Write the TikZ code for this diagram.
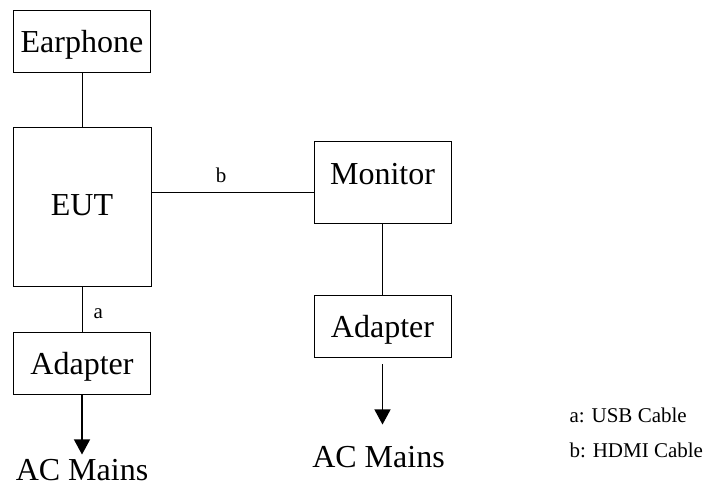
\documentclass[tikz,border=0pt]{standalone}
\usepackage{fontspec}
\setmainfont{Liberation Serif}
\usepackage{tikz}
\usetikzlibrary{arrows.meta,calc,positioning}
\tikzset{%
	device/.style  = {draw, rectangle, line width=1pt, minimum width=137pt, minimum height=62pt, text height=22pt, text depth=0pt, inner sep=0pt, font=\fontsize{32}{38}\selectfont},
	mains/.style   = {inner sep=0pt, font=\fontsize{32}{38}\selectfont}, % AC Mains
	cable/.style   = {inner sep=0pt, font=\fontsize{21}{25}\selectfont}, % Cable label
	feed/.style    = {line width=1.2pt, -{Triangle[width=16pt,length=15pt]}},
}

\begin{document}
\begin{tikzpicture}[x=1pt,y=1pt,line width=1pt]
	\useasboundingbox (0,-486) rectangle (705,0);
	\node [device, minimum width=138pt, minimum height=159pt, text depth=6pt] (eut) at (82,-207.5) {EUT};
	\node [device] (earphone) [above=54pt of eut] {Earphone};
	\node [device] (adapterl) [below=45pt of eut] {Adapter};
	\node [mains] (mainsl) [below=63pt of adapterl] {AC Mains};
	\node [device, minimum height=82pt, text depth=18pt] (monitor) at (382.5,-183) {Monitor};
	\node [device] (adapterr) [below=71pt of monitor] {Adapter};
	\node [mains] (mainsr) [below=87pt of adapterr, xshift=-4pt] {AC Mains};
	\node [cable, anchor=west] (usb) at (569,-415) {a: USB Cable};
	\node [cable] (hdmi) [below=19pt of usb.south west, anchor=north west] {b: HDMI Cable};
	\coordinate (hdmiend) at ([yshift=-10pt]monitor.west);
	
	\draw (earphone) -- (eut);
	\draw (eut) -- node[cable, right=11pt, pos=0.58] {a} (adapterl);
	\draw (hdmiend -| eut.east) -- node[cable, above=10pt, pos=0.43] {b} (hdmiend);
	\draw (monitor) -- (adapterr);
	\draw[feed, shorten >=4pt] (adapterl) -- (mainsl);
	\draw[feed, shorten <=6pt, shorten >=21pt] (adapterr.south) -- (adapterr.south |- mainsr.north);
\end{tikzpicture}
\end{document}
